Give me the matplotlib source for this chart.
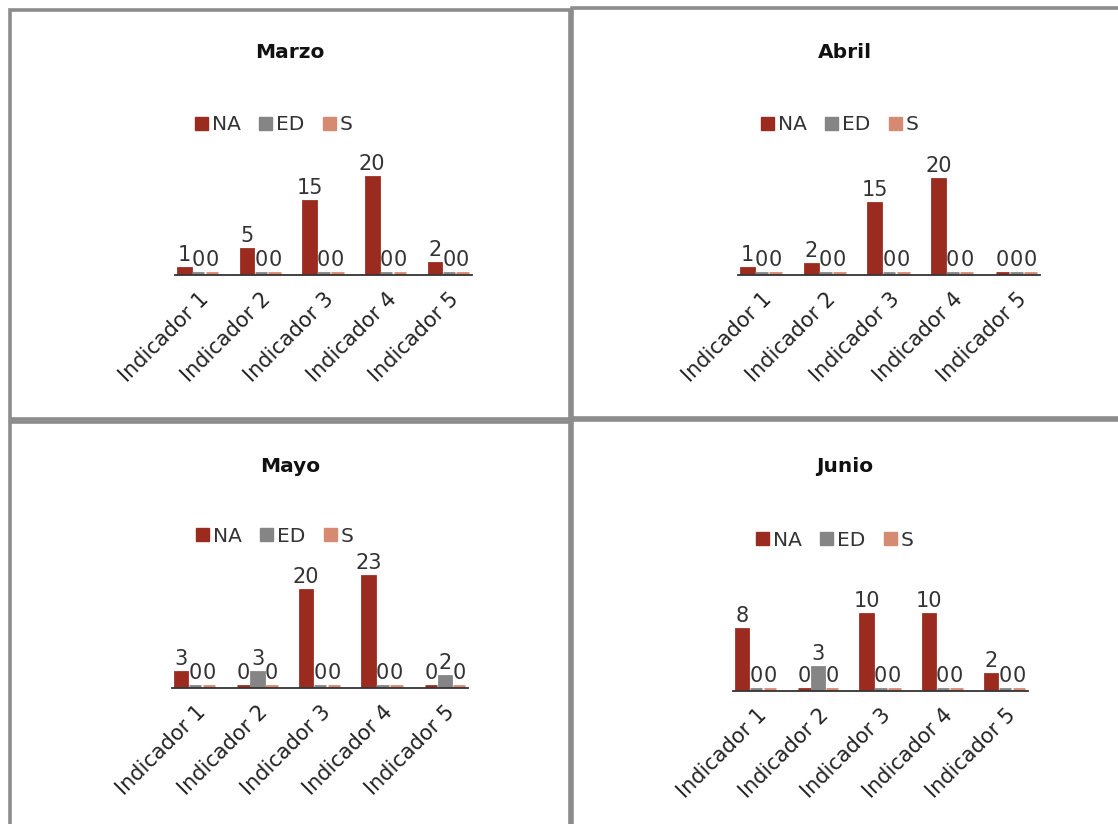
import matplotlib
matplotlib.use("Agg")
import matplotlib.pyplot as plt
from matplotlib.patches import Rectangle, Patch
import numpy as np

W, H = 1118, 824

categories = ["Indicador 1", "Indicador 2", "Indicador 3", "Indicador 4", "Indicador 5"]
series_names = ["NA", "ED", "S"]
colors = ["#9b2a1f", "#858585", "#d68a72"]

months = ["Marzo", "Abril", "Mayo", "Junio"]
marzo_NA = [1, 5, 15, 20, 2]
marzo_ED = [0, 0, 0, 0, 0]
marzo_S = [0, 0, 0, 0, 0]
abril_NA = [1, 2, 15, 20, 0]
abril_ED = [0, 0, 0, 0, 0]
abril_S = [0, 0, 0, 0, 0]
mayo_NA = [3, 0, 20, 23, 0]
mayo_ED = [0, 3, 0, 0, 2]
mayo_S = [0, 0, 0, 0, 0]
junio_NA = [8, 0, 10, 10, 2]
junio_ED = [0, 3, 0, 0, 0]
junio_S = [0, 0, 0, 0, 0]

data = {
    "Marzo": [marzo_NA, marzo_ED, marzo_S],
    "Abril": [abril_NA, abril_ED, abril_S],
    "Mayo": [mayo_NA, mayo_ED, mayo_S],
    "Junio": [junio_NA, junio_ED, junio_S],
}

plt.rcParams["font.family"] = ["DejaVu Sans"]
fig = plt.figure(figsize=(W / 100, H / 100), dpi=100)
fig.patch.set_facecolor("white")

def fx(x):
    return x / W

def fy(y):
    return 1 - y / H

# panel borders (pixel coords)
panels = [(10, 10, 570, 419), (572, 8, 1125, 418), (10, 422, 570, 835), (572, 420, 1125, 835)]
for (x0, y0, x1, y1) in panels:
    fig.patches.append(Rectangle((fx(x0), fy(y1)), fx(x1 - x0), (y1 - y0) / H,
                                 transform=fig.transFigure, fill=False,
                                 edgecolor="#8c8c8c", linewidth=2.6, zorder=0))

layout = {
    "Marzo": dict(l=175, r=472, base=275, ppu=4.8, title=(290, 52), leg=(274, 125)),
    "Abril": dict(l=738, r=1040, base=275, ppu=4.7, title=(845, 52), leg=(840, 125)),
    "Mayo": dict(l=172, r=468, base=688, ppu=4.78, title=(290, 467), leg=(275, 536)),
    "Junio": dict(l=733, r=1028, base=691, ppu=7.5, title=(845, 467), leg=(835, 540)),
}

x = np.arange(len(categories))
bw = 0.2
step = 0.222
for m in months:
    L = layout[m]
    off = 2.0 / L["ppu"]
    ymax = 118 / L["ppu"]
    ax = fig.add_axes([fx(L["l"]), fy(L["base"]), (L["r"] - L["l"]) / W, 120 / H])
    for i, (vals, c) in enumerate(zip(data[m], colors)):
        xs = x + (i - 1) * step
        ax.bar(xs, vals, width=bw, color=c, edgecolor=c, linewidth=2.0)
        for xi, v in zip(xs, vals):
            ax.text(xi, v + 3.0 / L["ppu"], str(v), ha="center", va="bottom",
                    fontsize=15, color="#333333")
    ax.set_xlim(-0.37, 4.37)
    ax.set_ylim(-off, ymax)
    ax.set_xticks(x)
    ax.set_xticklabels(categories, rotation=45, ha="right", rotation_mode="anchor",
                       fontsize=15, color="#222222")
    ax.tick_params(axis="x", length=0, pad=10)
    ax.set_yticks([])
    for s in ["top", "left", "right"]:
        ax.spines[s].set_visible(False)
    ax.spines["bottom"].set_color("#333333")
    ax.spines["bottom"].set_linewidth(1.3)
    ax.patch.set_alpha(0)
    tx, ty = L["title"]
    fig.text(fx(tx), fy(ty), m, ha="center", va="center", fontsize=14.5, fontweight="bold",
             color="#111111")
    lx, ly = L["leg"]
    handles = [Patch(facecolor=c, edgecolor=c) for c in colors]
    fig.legend(handles, series_names, loc="center", bbox_to_anchor=(fx(lx), fy(ly)),
               ncol=3, frameon=False, fontsize=14.5, handlelength=0.65, handleheight=0.65,
               handletextpad=0.2, columnspacing=0.9, labelcolor="#333333")

fig.savefig("out.png", dpi=100, facecolor="white")
